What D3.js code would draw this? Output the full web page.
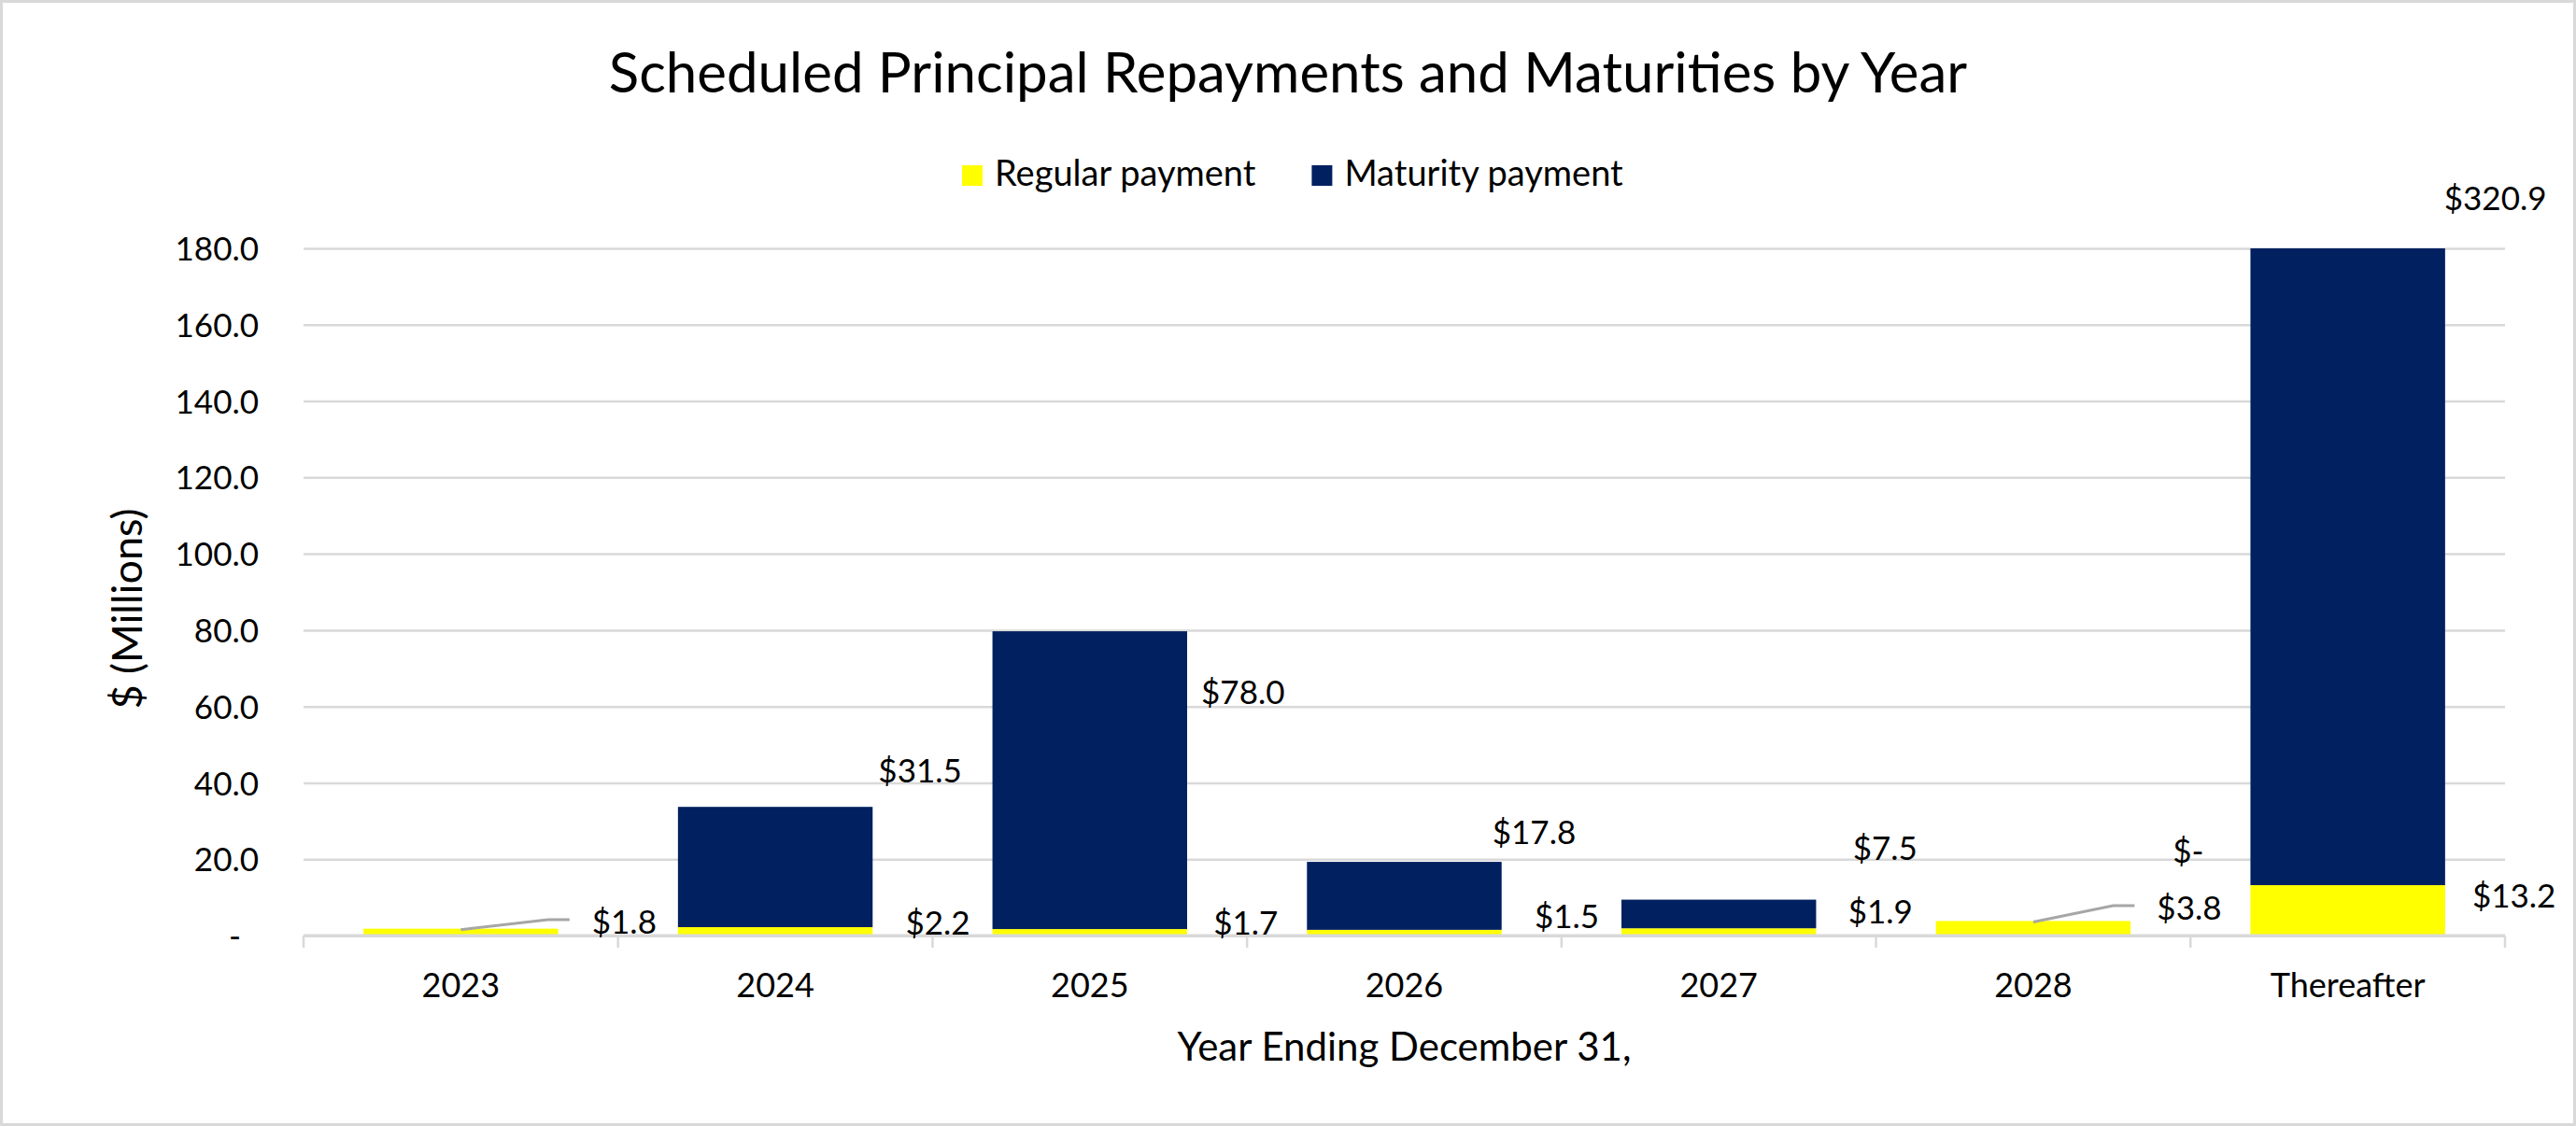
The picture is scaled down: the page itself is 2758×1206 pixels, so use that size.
<!DOCTYPE html>
<html>
<head>
<meta charset="utf-8">
<script src="https://cdn.jsdelivr.net/npm/d3@7"></script>
<style>
  html, body { margin: 0; padding: 0; background: #fff; }
  svg { display: block; }
  text { font-family: Lato, "Open Sans", sans-serif; fill: #000; }
</style>
</head>
<body>
<svg id="chart"></svg>
<script>
// ---- data ----
const categories = ["2023", "2024", "2025", "2026", "2027", "2028", "Thereafter"];
const regularPayment = [1.8, 2.2, 1.7, 1.5, 1.9, 3.8, 13.2];
const maturityPayment = [0, 31.5, 78.0, 17.8, 7.5, 0, 320.9];
const maturityLabelShown = [false, true, true, true, true, true, true];
const yTicks = [0, 20, 40, 60, 80, 100, 120, 140, 160, 180];
const seriesNames = ["Regular payment", "Maturity payment"];

// ---- layout (manually placed data labels, as in the source) ----
const regularNudge = [[175,-15],[174,-14],[167,-14],[174,-21],[173,-26],[167,-30],[178,-43]];
const maturityNudge = [[0,0],[155,-39],[164,65],[139,-32],[178,-55],[166,-75],[158,-54]];
const regularLeader = [true,false,false,false,false,true,false];

const W = 2758, H = 1206;
const colors = { regular: "#FFFF00", maturity: "#002060", grid: "#D9D9D9", leader: "#A6A6A6" };
const F = { title: 60, legend: 38, tick: 35, xtick: 36, label: 35, xTitle: 42, yTitle: 45 };
const plot = { left: 325, right: 2682, top: 266, bottom: 1002 };

const svg = d3.select("#chart").attr("width", W).attr("height", H);

// border
svg.append("rect").attr("x", 1.5).attr("y", 1.5).attr("width", W - 3).attr("height", H - 3)
  .attr("fill", "#fff").attr("stroke", colors.grid).attr("stroke-width", 3);

const x = d3.scaleBand().domain(categories).range([plot.left, plot.right])
  .paddingInner(0.381).paddingOuter(0.1905);
const y = d3.scaleLinear().domain([0, 180]).range([plot.bottom, plot.top]);

// title
svg.append("text").attr("x", W / 2).attr("y", 99).attr("text-anchor", "middle")
  .style("font-size", F.title + "px").text("Scheduled Principal Repayments and Maturities by Year");

// y axis with gridlines
const yAxis = d3.axisLeft(y).tickValues(yTicks)
  .tickSize(-(plot.right - plot.left)).tickPadding(48)
  .tickFormat(d => d === 0 ? "-" : d.toFixed(1));
const gy = svg.append("g").attr("transform", `translate(${plot.left},0)`).call(yAxis);
gy.select(".domain").remove();
gy.selectAll(".tick line").attr("stroke", colors.grid).attr("stroke-width", 2.5);
gy.selectAll(".tick text").style("font-size", F.tick + "px").attr("fill", "#000")
  .attr("dy", "0.36em")
  .attr("dx", d => d === 0 ? -19 : 0);
gy.selectAll(".tick").filter(d => d === 0).select("line").attr("stroke-width", 3);

// clip for bars
svg.append("clipPath").attr("id", "plotClip").append("rect")
  .attr("x", plot.left).attr("y", plot.top).attr("width", plot.right - plot.left)
  .attr("height", plot.bottom - plot.top);

const rows = categories.map((c, i) => ({
  cat: c, i, reg: regularPayment[i], mat: maturityPayment[i], total: regularPayment[i] + maturityPayment[i]
}));

const bars = svg.append("g").attr("clip-path", "url(#plotClip)");
bars.selectAll("rect.reg").data(rows).join("rect").attr("class", "reg")
  .attr("x", d => x(d.cat)).attr("width", x.bandwidth())
  .attr("y", d => y(d.reg)).attr("height", d => y(0) - y(d.reg))
  .attr("fill", colors.regular);
bars.selectAll("rect.mat").data(rows.filter(d => d.mat > 0)).join("rect").attr("class", "mat")
  .attr("x", d => x(d.cat)).attr("width", x.bandwidth())
  .attr("y", d => y(Math.min(d.total, 180))).attr("height", d => y(d.reg) - y(Math.min(d.total, 180)))
  .attr("fill", colors.maturity);

// x axis line + boundary ticks
const step = x.step();
svg.append("line").attr("x1", plot.left).attr("x2", plot.right).attr("y1", y(0)).attr("y2", y(0))
  .attr("stroke", colors.grid).attr("stroke-width", 3);
svg.append("g").selectAll("line").data(d3.range(categories.length + 1)).join("line")
  .attr("x1", i => plot.left + i * step).attr("x2", i => plot.left + i * step)
  .attr("y1", y(0)).attr("y2", y(0) + 13)
  .attr("stroke", colors.grid).attr("stroke-width", 2.5);

const gx = svg.append("g").attr("transform", `translate(0,${y(0)})`)
  .call(d3.axisBottom(x).tickSize(0).tickPadding(0));
gx.select(".domain").remove();
gx.selectAll(".tick text").style("font-size", F.xtick + "px").attr("fill", "#000")
  .attr("y", 66).attr("dy", null);

// axis titles
svg.append("text").attr("x", (plot.left + plot.right) / 2).attr("y", 1136).attr("text-anchor", "middle")
  .style("font-size", F.xTitle + "px").text("Year Ending December 31,");
svg.append("text").attr("transform", `translate(152,${(plot.top + plot.bottom) / 2 + 18}) rotate(-90)`)
  .attr("text-anchor", "middle").style("font-size", F.yTitle + "px").text("$ (Millions)");

// legend
const legend = svg.append("g");
let lx = 1030;
[colors.regular, colors.maturity].forEach((col, k) => {
  legend.append("rect").attr("x", lx).attr("y", 177).attr("width", 22).attr("height", 22).attr("fill", col);
  const t = legend.append("text").attr("x", lx + 35).attr("y", 199)
    .style("font-size", F.legend + "px").text(seriesNames[k]);
  lx = lx + 35 + t.node().getComputedTextLength() + 60;
});

// data labels
const fmt = v => v === 0 ? "$-" : "$" + v.toFixed(1);
const labels = svg.append("g");
rows.forEach(d => {
  const xc = x(d.cat) + x.bandwidth() / 2;
  // regular
  const [rdx, rdy] = regularNudge[d.i];
  const rcx = xc + rdx, rcy = y(0) + rdy;
  const t = labels.append("text").attr("x", rcx).attr("y", rcy).attr("dy", "0.36em")
    .attr("text-anchor", "middle").style("font-size", F.label + "px").text(fmt(d.reg));
  if (regularLeader[d.i]) {
    const left = rcx - t.node().getComputedTextLength() / 2;
    labels.append("polyline")
      .attr("points", [[xc, y(d.reg) + 1], [left - 47, rcy - 2], [left - 24, rcy - 2]].map(p => p.join(",")).join(" "))
      .attr("fill", "none").attr("stroke", colors.leader).attr("stroke-width", 3);
  }
  // maturity
  if (maturityLabelShown[d.i]) {
    const [mdx, mdy] = maturityNudge[d.i];
    labels.append("text").attr("x", xc + mdx).attr("y", y(Math.min(d.total, 180)) + mdy).attr("dy", "0.36em")
      .attr("text-anchor", "middle").style("font-size", F.label + "px").text(fmt(d.mat));
  }
});
</script>
</body>
</html>
